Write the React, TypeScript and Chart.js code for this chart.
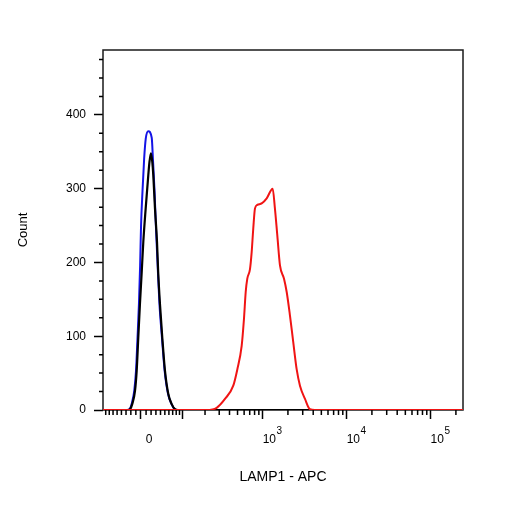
import { useEffect, useRef } from "react";
import { Chart, registerables } from "chart.js";

Chart.register(...registerables);

// x values are positions on the biexponential display axis, in decades (10^3 -> 3)
const blankX = [1.099, 1.385, 1.414, 1.444, 1.471, 1.492, 1.51, 1.527, 1.541, 1.552, 1.569, 1.589, 1.608, 1.638, 1.679, 1.694, 1.712, 1.73, 1.748, 1.771, 1.801, 1.833, 1.873, 1.915, 1.956, 1.992, 5.385];
const blankCount = [0, 0, 1, 10, 26, 53, 98, 144, 196, 250, 296, 341, 368, 378, 369, 339, 298, 246, 200, 144, 98, 53, 22, 8, 1, 0, 0];

const isotypeX = [1.099, 1.396, 1.42, 1.452, 1.48, 1.5, 1.519, 1.539, 1.56, 1.579, 1.607, 1.638, 1.652, 1.67, 1.686, 1.698, 1.718, 1.742, 1.756, 1.777, 1.805, 1.837, 1.876, 1.917, 1.956, 1.992, 5.385];
const isotypeCount = [0, 0, 1, 10, 26, 53, 98, 144, 187, 228, 273, 318, 336, 348, 336, 318, 273, 228, 187, 144, 98, 53, 22, 8, 1, 0, 0];

const lamp1X = [1.099, 2.337, 2.452, 2.551, 2.65, 2.698, 2.75, 2.777, 2.798, 2.817, 2.849, 2.869, 2.888, 2.908, 2.936, 2.988, 3.048, 3.119, 3.146, 3.174, 3.206, 3.254, 3.286, 3.325, 3.364, 3.405, 3.444, 3.504, 3.563, 3.623, 5.385];
const lamp1Count = [0, 0, 3, 15, 33, 55, 87, 123, 160, 178, 191, 214, 246, 273, 278, 280, 287, 300, 273, 237, 196, 178, 160, 128, 92, 55, 33, 15, 1, 0, 0];

// axis ticks (x in fluorescence units, placed through biex)
const xMajorTicks = [0, 100, 1000, 10000, 100000];
const xLabelBase = ["0", "", "10", "10", "10"];
const xLabelPower = ["", "", "3", "4", "5"];
const xMinorTicks = [
  -80, -70, -60, -50, -40, -30, -20, -10, 10, 20, 30, 40, 50, 60, 70, 80, 90,
  200, 300, 400, 500, 600, 700, 800, 900,
  2000, 3000, 4000, 5000, 6000, 7000, 8000, 9000,
  20000, 30000, 40000, 50000, 60000, 70000, 80000, 90000, 200000,
];
const yMajorTicks = [0, 100, 200, 300, 400];
const yMinorTicks = [25, 50, 75, 125, 150, 175, 225, 250, 275, 325, 350, 375, 425, 450, 475];

const FONT = "'Liberation Sans', Arial, sans-serif";

// arcsinh display transform: linear near zero, log10 for large values
const biex = (v: number) => 1.551 + Math.asinh(v / 71.2) / Math.LN10;

const toPoints = (xs: number[], ys: number[]) => xs.map((x, i) => ({ x, y: ys[i] }));

const framePlugin = {
  id: "frame",
  beforeDatasetsDraw(chart: Chart) {
    const { ctx, chartArea: a } = chart;
    ctx.save();
    ctx.strokeStyle = "#1a1a1a";
    ctx.lineWidth = 1.5;
    ctx.strokeRect(a.left, a.top, a.right - a.left, a.bottom - a.top);

    // minor ticks
    ctx.strokeStyle = "#000";
    ctx.lineWidth = 1.5;
    ctx.beginPath();
    const xs = chart.scales.x;
    xMinorTicks.forEach((v) => {
      const px = xs.getPixelForValue(biex(v));
      ctx.moveTo(px, a.bottom);
      ctx.lineTo(px, a.bottom + 5);
    });
    const ys = chart.scales.y;
    yMinorTicks.forEach((v) => {
      const py = ys.getPixelForValue(v);
      ctx.moveTo(a.left - 4, py);
      ctx.lineTo(a.left, py);
    });
    ctx.stroke();
    ctx.restore();
  },
  afterDraw(chart: Chart) {
    // x tick labels with real superscripts
    const { ctx, chartArea: a } = chart;
    const xs = chart.scales.x;
    const baseY = a.bottom + 33;
    ctx.save();
    ctx.fillStyle = "#000";
    ctx.textBaseline = "alphabetic";
    xMajorTicks.forEach((v, i) => {
      const base = xLabelBase[i];
      if (!base) return;
      const px = xs.getPixelForValue(biex(v));
      const power = xLabelPower[i];
      ctx.font = `12px ${FONT}`;
      if (!power) {
        ctx.textAlign = "center";
        ctx.fillText(base, px + 8, baseY);
        return;
      }
      ctx.textAlign = "left";
      ctx.fillText(base, px, baseY);
      const w = ctx.measureText(base).width;
      ctx.font = `10px ${FONT}`;
      ctx.fillText(power, px + w + 0.5, baseY - 9);
    });
    ctx.restore();
  },
};

const App = () => {
  const chartRef = useRef<HTMLCanvasElement>(null);
  const chartInstanceRef = useRef<Chart>();

  useEffect(() => {
    if (!chartRef.current) return;
    const ctx = chartRef.current.getContext("2d");

    if (chartInstanceRef.current) {
      chartInstanceRef.current.destroy();
    }

    chartInstanceRef.current = new Chart(ctx!, {
      type: "line",
      data: {
        datasets: [
          {
            label: "LAMP1",
            data: toPoints(lamp1X, lamp1Count),
            borderColor: "#f01414",
            borderWidth: 2,
            pointRadius: 0,
            cubicInterpolationMode: "monotone",
          },
          {
            label: "Isotype",
            data: toPoints(isotypeX, isotypeCount),
            borderColor: "#000000",
            borderWidth: 2.2,
            pointRadius: 0,
            cubicInterpolationMode: "monotone",
          },
          {
            label: "Blank",
            data: toPoints(blankX, blankCount),
            borderColor: "#1414e6",
            borderWidth: 2,
            pointRadius: 0,
            cubicInterpolationMode: "monotone",
          },
        ],
      },
      options: {
        animation: false,
        responsive: true,
        maintainAspectRatio: false,
        layout: { padding: { top: 50, right: 43, left: 0, bottom: 0 } },
        plugins: {
          legend: { display: false },
          tooltip: { enabled: false },
        },
        scales: {
          x: {
            type: "linear",
            min: 1.099,
            max: 5.385,
            afterBuildTicks: (s) => {
              s.ticks = xMajorTicks.map((v) => ({ value: biex(v) }));
            },
            afterFit: (s) => {
              s.height = 96;
            },
            border: { display: false },
            grid: {
              display: true,
              drawOnChartArea: false,
              tickLength: 9,
              tickColor: "#000",
              tickWidth: 1.5,
            },
            ticks: {
              autoSkip: false,
              maxRotation: 0,
              callback: () => "",
            },
            title: {
              display: true,
              text: "LAMP1 - APC",
              color: "#000",
              font: { family: FONT, size: 14 },
              padding: { top: 0, bottom: 20 },
            },
          },
          y: {
            type: "linear",
            min: 0,
            max: 488,
            afterBuildTicks: (s) => {
              s.ticks = yMajorTicks.map((v) => ({ value: v }));
            },
            afterFit: (s) => {
              s.width = 103;
            },
            border: { display: false },
            grid: {
              display: true,
              drawOnChartArea: false,
              tickLength: 9,
              tickColor: "#000",
              tickWidth: 1.5,
            },
            ticks: {
              padding: 8,
              color: "#000",
              font: { family: FONT, size: 12 },
            },
            title: {
              display: true,
              text: "Count",
              color: "#000",
              font: { family: FONT, size: 13 },
              padding: { top: 16, bottom: 0 },
            },
          },
        },
      },
      plugins: [framePlugin],
    });

    return () => {
      if (chartInstanceRef.current) {
        chartInstanceRef.current.destroy();
      }
    };
  }, []);

  return (
    <div style={{ position: "absolute", left: 0, top: 0, width: 506, height: 506 }}>
      <canvas ref={chartRef}></canvas>
    </div>
  );
};

export default App;
